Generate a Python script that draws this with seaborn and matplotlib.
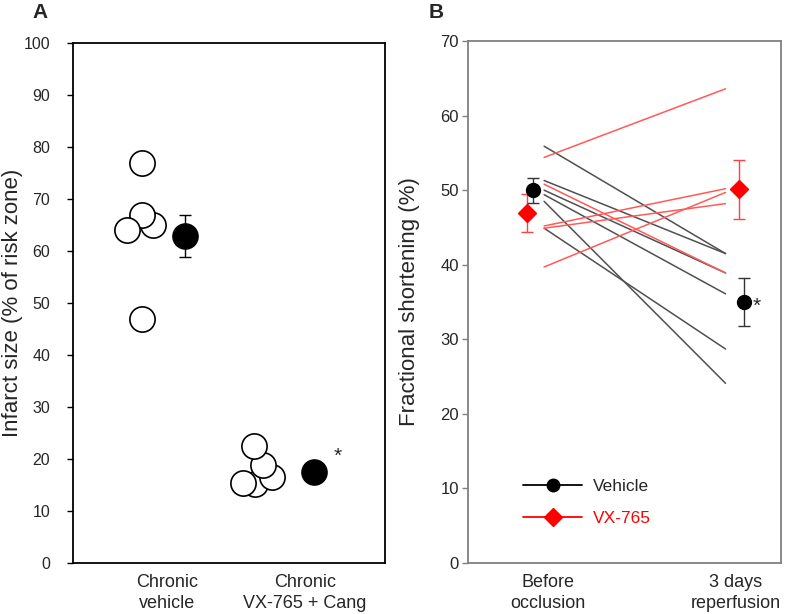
import numpy as np
import pandas as pd
import matplotlib
matplotlib.use("Agg")
import matplotlib.pyplot as plt
import seaborn as sns
from matplotlib import font_manager
from matplotlib.lines import Line2D

# ---------------- data ----------------
# Panel A
groups_a = ["Chronic\nvehicle", "Chronic\nVX-765 + Cang"]
vehicle_infarct = [64.9, 67.0, 64.1, 77.0, 47.0]
vx_infarct = [15.1, 16.6, 18.9, 22.4, 15.3]
infarct_mean = [62.9, 17.4]
infarct_sem = [4.0, 1.4]

# Panel B
timepoints = ["Before\nocclusion", "3 days\nreperfusion"]
veh_before = [55.9, 51.3, 50.0, 49.4, 48.5, 44.9]
veh_after = [41.5, 41.5, 38.9, 36.1, 24.1, 28.7]
vx_before = [54.4, 50.8, 45.2, 44.9, 39.7]
vx_after = [63.6, 38.9, 50.2, 48.2, 49.7]
veh_mean = [50.0, 35.0]
veh_sem = [1.7, 3.2]
vx_mean = [47.0, 50.1]
vx_sem = [2.55, 3.95]

# ---------------- style ----------------
sns.set_style("white")
names = {f.name for f in font_manager.fontManager.ttflist}
base_font = "Liberation Sans" if "Liberation Sans" in names else "DejaVu Sans"
narrow_font = "Liberation Sans Narrow" if "Liberation Sans Narrow" in names else base_font
plt.rcParams["font.family"] = [base_font, "DejaVu Sans"]

fig = plt.figure(figsize=(8.0, 6.14), dpi=100)
axA = fig.add_axes([0.0913, 0.0831, 0.39, 0.847])
axB = fig.add_axes([0.585, 0.0831, 0.391, 0.850])

# ---------------- panel A ----------------
cat_pos_a = [0.90, 2.23]
jit_a1 = [-0.135, -0.24, -0.385, -0.24, -0.24]
jit_a2 = [-0.48, -0.32, -0.40, -0.49, -0.60]
mean_off_a = [0.175, 0.09]

dfA = pd.DataFrame({
    "x": [cat_pos_a[0] + j for j in jit_a1] + [cat_pos_a[1] + j for j in jit_a2],
    "y": vehicle_infarct + vx_infarct,
})
sns.scatterplot(data=dfA, x="x", y="y", ax=axA, s=330, facecolor="white",
                edgecolor="black", linewidth=1.2, zorder=3, legend=False)
mx = [c + o for c, o in zip(cat_pos_a, mean_off_a)]
axA.errorbar(mx, infarct_mean, yerr=infarct_sem, fmt="none", ecolor="black",
             elinewidth=1.0, capsize=4, capthick=1.0, zorder=3)
sns.scatterplot(x=mx, y=infarct_mean, ax=axA, s=330, color="black",
                edgecolor="black", linewidth=1.0, zorder=4, legend=False)
axA.text(cat_pos_a[1] + 0.31, infarct_mean[1] + 3.2, "*", fontsize=15,
         ha="center", va="center")

axA.set_xlim(0, 3)
axA.set_ylim(0, 100)
axA.set_yticks(np.arange(0, 101, 10))
axA.set_xticks(cat_pos_a)
axA.set_xticklabels(groups_a, fontsize=13, family=narrow_font, linespacing=1.3)
axA.tick_params(axis="x", length=0, pad=8)
axA.tick_params(axis="y", length=4.5, width=1.0, color="black", labelsize=11.5, pad=12,
                direction="out", left=True)
for s in axA.spines.values():
    s.set_color("black")
    s.set_linewidth(1.3)
axA.set_xlabel("")
axA.set_ylabel("Infarct size (% of risk zone)", fontsize=16)
axA.yaxis.set_label_coords(-0.16, 0.5)

# ---------------- panel B ----------------
cat_pos_b = [0.77, 2.57]
line_x = [0.73, 2.47]
rows = []
for i, (b, a) in enumerate(zip(veh_before, veh_after)):
    rows.append(("Vehicle", f"v{i}", line_x[0], b))
    rows.append(("Vehicle", f"v{i}", line_x[1], a))
for i, (b, a) in enumerate(zip(vx_before, vx_after)):
    rows.append(("VX-765", f"x{i}", line_x[0], b))
    rows.append(("VX-765", f"x{i}", line_x[1], a))
dfB = pd.DataFrame(rows, columns=["group", "subject", "x", "fs"])

sns.lineplot(data=dfB[dfB.group == "Vehicle"], x="x", y="fs", units="subject",
             estimator=None, color="#505050", lw=1.1, ax=axB, legend=False, zorder=2)
sns.lineplot(data=dfB[dfB.group == "VX-765"], x="x", y="fs", units="subject",
             estimator=None, color="#ff5a5a", lw=1.1, ax=axB, legend=False, zorder=2.5)

veh_x = [0.622, 2.65]
vx_x = [0.565, 2.60]
axB.errorbar(vx_x, vx_mean, yerr=vx_sem, fmt="D", color="red", ms=9.5,
             ecolor="#ff4040", elinewidth=1.0, capsize=4, capthick=1.0, zorder=4)
axB.errorbar(veh_x, veh_mean, yerr=veh_sem, fmt="o", color="black", ms=10,
             ecolor="#333333", elinewidth=1.0, capsize=4, capthick=1.0, zorder=5)
axB.text(veh_x[1] + 0.12, veh_mean[1] - 0.6, "*", fontsize=15, ha="center", va="center")

axB.set_xlim(0, 3)
axB.set_ylim(0, 70)
axB.set_yticks(np.arange(0, 71, 10))
axB.set_xticks(cat_pos_b)
axB.set_xticklabels(timepoints, fontsize=13, family=narrow_font, linespacing=1.3)
axB.tick_params(axis="x", length=0, pad=8)
axB.tick_params(axis="y", length=4.5, width=1.0, color="#808080", labelsize=12, pad=2,
                direction="out", left=True)
for s in axB.spines.values():
    s.set_color("#808080")
    s.set_linewidth(1.3)
axB.set_xlabel("")
axB.set_ylabel("Fractional shortening (%)", fontsize=16)
axB.yaxis.set_label_coords(-0.155, 0.5)

handles = [
    Line2D([], [], color="black", marker="o", ms=9, lw=1.3),
    Line2D([], [], color="red", marker="D", ms=9, lw=1.3),
]
leg = axB.legend(handles, ["Vehicle", "VX-765"], loc="lower left",
                 bbox_to_anchor=(0.176, 0.07), frameon=False, fontsize=12.5,
                 handlelength=3.4, handletextpad=0.62, labelspacing=1.0,
                 borderpad=0, borderaxespad=0)
leg.get_texts()[1].set_color("red")

fig.text(0.05, 0.979, "A", fontsize=15, fontweight="bold", ha="center", va="center")
fig.text(0.545, 0.979, "B", fontsize=15, fontweight="bold", ha="center", va="center")

fig.savefig("out.png", dpi=100)
